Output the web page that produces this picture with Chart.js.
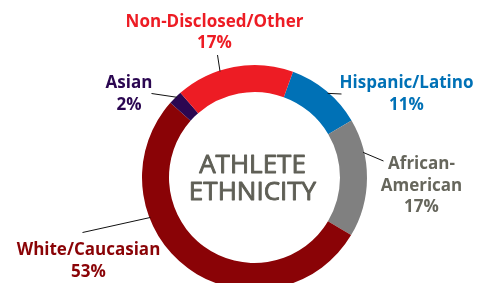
<!DOCTYPE html>
<html>
<head>
<meta charset="utf-8">
<script src="https://cdn.jsdelivr.net/npm/chart.js@4/dist/chart.umd.min.js"></script>
<style>
  html, body { margin: 0; padding: 0; background: #fff; overflow: hidden; }
  #wrap { width: 490px; height: 283px; overflow: hidden; position: relative; }
  canvas { display: block; }
</style>
</head>
<body>
<div id="wrap"><canvas id="ethChart" width="490" height="300"></canvas></div>
<script>
// データ
const categories = ['Hispanic/Latino', 'African-American', 'White/Caucasian', 'Asian', 'Non-Disclosed/Other'];
const shares = [11, 17, 53, 2, 17];
const sliceColors = ['#0071b6', '#808080', '#8a0306', '#2b0751', '#ed1c24'];
const labelColors = ['#0071b6', '#66665c', '#8a0306', '#2b0751', '#ed1c24'];
const labelLines = [['Hispanic/Latino'], ['African-', 'American'], ['White/Caucasian'], ['Asian'], ['Non-Disclosed/Other']];
const centerTitle = ['ATHLETE', 'ETHNICITY'];

// ラベル位置（ドーナツ中心からのずれ）と引き出し線
const labelPos = [
  { dx: 152, dy: -89.5, lineAngle: 41, lineEnd: [87, -83.5] },
  { dx: 167, dy: -8.5, lineAngle: 77, lineEnd: [129, -16.5] },
  { dx: -166, dy: 77.5, lineAngle: 249, lineEnd: [-172, 55] },
  { dx: -125.5, dy: -89.5, lineAngle: 316, lineEnd: [-103, -84] },
  { dx: -40, dy: -151, lineAngle: 342, lineEnd: [-37, -122.5] }
];

const labelPlugin = {
  id: 'calloutLabels',
  afterDraw(chart) {
    const ctx = chart.ctx;
    const arc = chart.getDatasetMeta(0).data[0];
    const cx = arc.x, cy = arc.y, r = arc.outerRadius;
    ctx.save();

    // 引き出し線
    ctx.strokeStyle = '#111';
    ctx.lineWidth = 1;
    labelPos.forEach(function (p) {
      const a = p.lineAngle * Math.PI / 180;
      ctx.beginPath();
      ctx.moveTo(cx + Math.sin(a) * (r - 1), cy - Math.cos(a) * (r - 1));
      ctx.lineTo(cx + p.lineEnd[0], cy + p.lineEnd[1]);
      ctx.stroke();
    });

    // ラベル
    ctx.textAlign = 'center';
    ctx.textBaseline = 'alphabetic';
    ctx.font = 'bold 17px "Open Sans"';
    categories.forEach(function (name, i) {
      const p = labelPos[i];
      const lines = labelLines[i].concat([shares[i] + '%']);
      ctx.fillStyle = labelColors[i];
      lines.forEach(function (t, k) {
        ctx.fillText(t, cx + p.dx, cy + p.dy + k * 21.5);
      });
    });

    // 中央タイトル（少し太らせる）
    ctx.fillStyle = '#5f5f56';
    ctx.strokeStyle = '#5f5f56';
    ctx.lineWidth = 0.9;
    ctx.lineJoin = 'round';
    ctx.font = '26px "Open Sans"';
    [[centerTitle[0], -4.5], [centerTitle[1], 22.5]].forEach(function (row) {
      ctx.fillText(row[0], cx - 2, cy + row[1]);
      ctx.strokeText(row[0], cx - 2, cy + row[1]);
    });
    ctx.restore();
  }
};

const ctx = document.getElementById('ethChart').getContext('2d');
new Chart(ctx, {
  type: 'doughnut',
  data: {
    labels: categories,
    datasets: [{
      data: shares,
      backgroundColor: sliceColors,
      borderWidth: 0
    }]
  },
  options: {
    responsive: false,
    animation: false,
    rotation: 20,
    cutout: '76%',
    layout: { padding: { left: 142, right: 123, top: 65, bottom: 10 } },
    plugins: {
      legend: { display: false },
      tooltip: { enabled: false }
    }
  },
  plugins: [labelPlugin]
});
</script>
</body>
</html>
